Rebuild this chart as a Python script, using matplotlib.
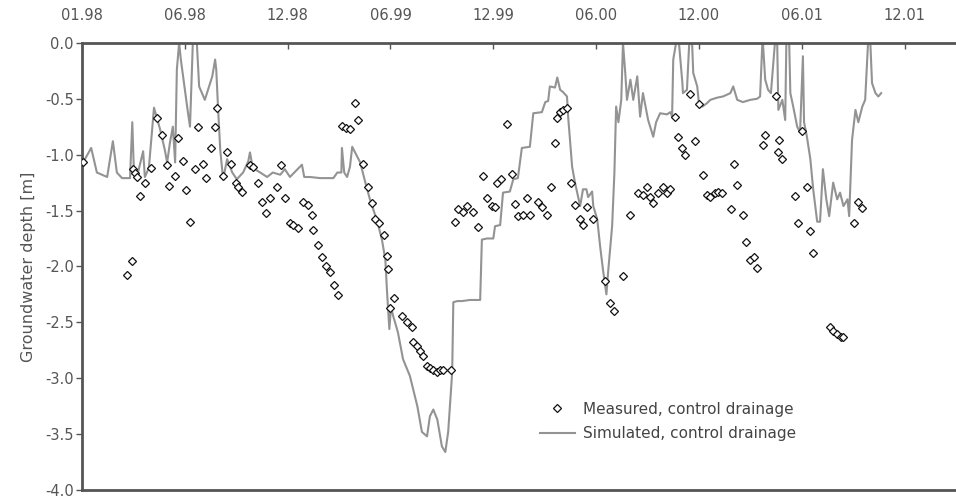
import matplotlib
matplotlib.use("Agg")
import matplotlib.pyplot as plt

plt.rcParams['font.family'] = ['DejaVu Sans']

# days since 01.01.1998, depth in m
sim_day = [2, 16, 26, 44, 54, 61, 70, 84, 88, 91, 98, 107, 110, 117, 126, 137, 145, 149, 154, 159,
           163, 166, 170, 173, 184, 189, 194, 201, 205, 215, 228, 233, 235, 238, 242, 247, 254, 263,
           271, 282, 291, 294, 299, 312, 324, 334, 347, 355, 364, 385, 389, 399, 417, 440, 447, 454,
           455, 459, 464, 469, 473, 478, 487, 496, 504, 517, 525, 531, 534, 538, 541, 545, 548, 553,
           562, 574, 587, 595, 604, 609, 615, 622, 630, 636, 641, 648, 650, 657, 665, 679, 693, 697,
           700, 709, 720, 723, 732, 737, 749, 755, 763, 770, 784, 790, 805, 811, 816, 819, 828, 832,
           837, 842, 849, 851, 858, 863, 872, 877, 883, 886, 893, 895, 902, 907, 912, 918, 921, 928,
           932, 935, 939, 944, 947, 951, 954, 960, 965, 972, 977, 982, 991, 1000, 1005, 1012, 1024,
           1030, 1033, 1035, 1040, 1045, 1051, 1052, 1059, 1063, 1068, 1070, 1077, 1080, 1086, 1094,
           1100, 1112, 1122, 1135, 1140, 1147, 1157, 1170, 1182, 1187, 1191, 1192, 1196, 1201, 1206,
           1213, 1217, 1219, 1226, 1231, 1233, 1238, 1240, 1245, 1252, 1257, 1262, 1264, 1269, 1275,
           1280, 1287, 1292, 1297, 1303, 1308, 1315, 1322, 1327, 1333, 1340, 1343, 1348, 1354, 1359,
           1366, 1371, 1376, 1380, 1383, 1389, 1394, 1399]
sim_depth = [-1.07, -0.94, -1.16, -1.20, -0.88, -1.16, -1.21, -1.21, -0.71, -1.18, -1.16, -0.97, -1.20,
             -1.12, -0.58, -0.78, -0.96, -1.07, -0.89, -0.75, -1.07, -0.24, 0.0, -0.15, -0.57, -0.75,
             0.0, 0.0, -0.39, -0.51, -0.30, -0.15, -0.24, -0.57, -0.96, -1.22, -1.04, -1.16, -1.22,
             -1.16, -1.06, -0.98, -1.12, -1.16, -1.20, -1.16, -1.18, -1.13, -1.20, -1.09, -1.20, -1.20,
             -1.21, -1.21, -1.16, -1.16, -0.94, -1.16, -1.20, -1.11, -0.93, -0.98, -1.07, -1.25, -1.40,
             -1.60, -1.76, -1.94, -2.23, -2.56, -2.36, -2.45, -2.50, -2.59, -2.83, -2.98, -3.25, -3.48,
             -3.52, -3.34, -3.28, -3.37, -3.61, -3.66, -3.48, -2.95, -2.32, -2.31, -2.31, -2.30, -2.30,
             -2.30, -1.76, -1.75, -1.75, -1.64, -1.63, -1.34, -1.33, -1.22, -1.21, -0.94, -0.93, -0.63,
             -0.62, -0.53, -0.52, -0.39, -0.40, -0.31, -0.42, -0.44, -0.48, -0.66, -1.11, -1.25, -1.46,
             -1.31, -1.31, -1.38, -1.33, -1.46, -1.58, -1.82, -2.03, -2.25, -2.05, -1.64, -1.16, -0.57,
             -0.71, -0.51, 0.0, -0.27, -0.51, -0.33, -0.51, -0.30, -0.66, -0.45, -0.69, -0.84, -0.71,
             -0.63, -0.64, -0.62, -0.66, -0.15, 0.0, 0.0, -0.36, -0.45, -0.42, 0.0, 0.0, -0.27, -0.39,
             -0.54, -0.57, -0.54, -0.51, -0.49, -0.48, -0.45, -0.39, -0.51, -0.53, -0.51, -0.50, -0.48,
             0.0, 0.0, -0.33, -0.42, -0.45, 0.0, 0.0, -0.60, -0.51, -0.69, 0.0, 0.0, -0.45, -0.57,
             -0.75, -0.80, -0.12, -0.71, -0.84, -1.04, -1.31, -1.60, -1.60, -1.13, -1.40, -1.55, -1.25,
             -1.40, -1.34, -1.46, -1.40, -1.55, -0.87, -0.60, -0.71, -0.57, -0.51, 0.0, 0.0, -0.36,
             -0.45, -0.48, -0.45]

meas_day = [2, 79, 88, 89, 93, 96, 102, 110, 121, 131, 140, 149, 152, 163, 168, 177, 182, 189, 198,
            203, 212, 217, 226, 233, 236, 247, 254, 261, 270, 273, 280, 294, 299, 308, 315, 322, 329,
            341, 348, 355, 364, 369, 378, 387, 396, 403, 404, 413, 420, 427, 434, 441, 448, 455, 462,
            469, 478, 483, 492, 501, 508, 513, 520, 529, 534, 536, 539, 546, 560, 569, 578, 580, 587,
            592, 597, 604, 609, 615, 622, 627, 632, 646, 653, 658, 667, 674, 685, 693, 702, 709, 718,
            723, 727, 734, 744, 753, 758, 763, 772, 779, 784, 798, 805, 814, 821, 828, 832, 837, 842,
            849, 856, 863, 872, 877, 884, 895, 916, 925, 932, 947, 960, 974, 982, 989, 995, 1000, 1009,
            1017, 1024, 1030, 1038, 1044, 1051, 1056, 1065, 1073, 1080, 1087, 1094, 1100, 1108, 1114,
            1121, 1136, 1142, 1147, 1157, 1163, 1170, 1177, 1182, 1192, 1196, 1215, 1219, 1220, 1226,
            1248, 1254, 1261, 1269, 1275, 1280, 1310, 1315, 1322, 1329, 1333, 1352, 1359, 1366]
meas_depth = [-1.07, -2.08, -1.95, -1.13, -1.16, -1.20, -1.37, -1.25, -1.12, -0.67, -0.82, -1.09, -1.28,
              -1.19, -0.85, -1.06, -1.32, -1.60, -1.13, -0.75, -1.08, -1.21, -0.94, -0.75, -0.58, -1.19,
              -0.98, -1.08, -1.25, -1.29, -1.33, -1.09, -1.11, -1.25, -1.42, -1.52, -1.39, -1.29, -1.09,
              -1.39, -1.61, -1.63, -1.66, -1.42, -1.45, -1.54, -1.67, -1.81, -1.92, -2.00, -2.05, -2.17,
              -2.26, -0.74, -0.76, -0.77, -0.54, -0.69, -1.08, -1.29, -1.43, -1.58, -1.61, -1.72, -1.91,
              -2.02, -2.37, -2.28, -2.44, -2.50, -2.54, -2.68, -2.71, -2.76, -2.80, -2.89, -2.91, -2.93,
              -2.94, -2.93, -2.93, -2.93, -1.60, -1.49, -1.51, -1.46, -1.51, -1.65, -1.19, -1.39, -1.46,
              -1.47, -1.25, -1.22, -0.73, -1.17, -1.44, -1.55, -1.54, -1.39, -1.54, -1.42, -1.47, -1.54,
              -1.29, -0.90, -0.67, -0.62, -0.60, -0.58, -1.25, -1.45, -1.58, -1.63, -1.47, -1.58, -2.13,
              -2.33, -2.40, -2.09, -1.54, -1.34, -1.36, -1.29, -1.38, -1.43, -1.34, -1.29, -1.34, -1.31,
              -0.66, -0.84, -0.94, -1.00, -0.46, -0.88, -0.55, -1.18, -1.36, -1.38, -1.34, -1.33, -1.34,
              -1.49, -1.08, -1.27, -1.54, -1.78, -1.94, -1.92, -2.01, -0.91, -0.82, -0.48, -0.98, -0.87,
              -1.04, -1.37, -1.61, -0.79, -1.29, -1.68, -1.88, -2.54, -2.58, -2.60, -2.63, -2.63, -1.61,
              -1.42, -1.48]

tick_days = [0, 180, 360, 540, 720, 900, 1080, 1260, 1440]
tick_labels = ['01.98', '06.98', '12.98', '06.99', '12.99', '06.00', '12.00', '06.01', '12.01']

fig = plt.figure(figsize=(9.56, 4.98), dpi=100)
ax = fig.add_axes([0.0858, 0.016, 0.9142, 0.898])

ax.plot(sim_day, sim_depth, color='#939393', lw=1.5, label='Simulated, control drainage', zorder=2)
ax.plot(meas_day, meas_depth, ls='none', marker='D', ms=4.0, mfc='white', mec='#111111', mew=0.9,
        label='Measured, control drainage', zorder=3)

ax.set_xlim(0, 1530)
ax.set_ylim(-4.0, 0.0)
ax.set_yticks([-4.0, -3.5, -3.0, -2.5, -2.0, -1.5, -1.0, -0.5, 0.0])
ax.set_yticklabels(['%.1f' % v for v in ax.get_yticks()])
ax.set_xticks(tick_days)
ax.set_xticklabels(tick_labels)
ax.xaxis.tick_top()
ax.tick_params(axis='x', direction='in', length=4, width=1, colors='#555555', labelsize=10.5, pad=14)
ax.tick_params(axis='y', direction='out', length=4, width=1, colors='#555555', labelsize=10.5, pad=2)
ax.set_ylabel('Groundwater depth [m]', fontsize=11.5, color='#555555', labelpad=6)

for s in ['left', 'top', 'bottom']:
    ax.spines[s].set_color('#555555')
    ax.spines[s].set_linewidth(2)
ax.spines['right'].set_visible(False)

h, l = ax.get_legend_handles_labels()
leg = ax.legend(h[::-1], l[::-1], loc='upper left', bbox_to_anchor=(0.508, 0.228), frameon=False,
                fontsize=11, handlelength=2.3, labelspacing=0.6, handletextpad=0.5)
for t in leg.get_texts():
    t.set_color('#444444')

fig.savefig('out.png', dpi=100)
